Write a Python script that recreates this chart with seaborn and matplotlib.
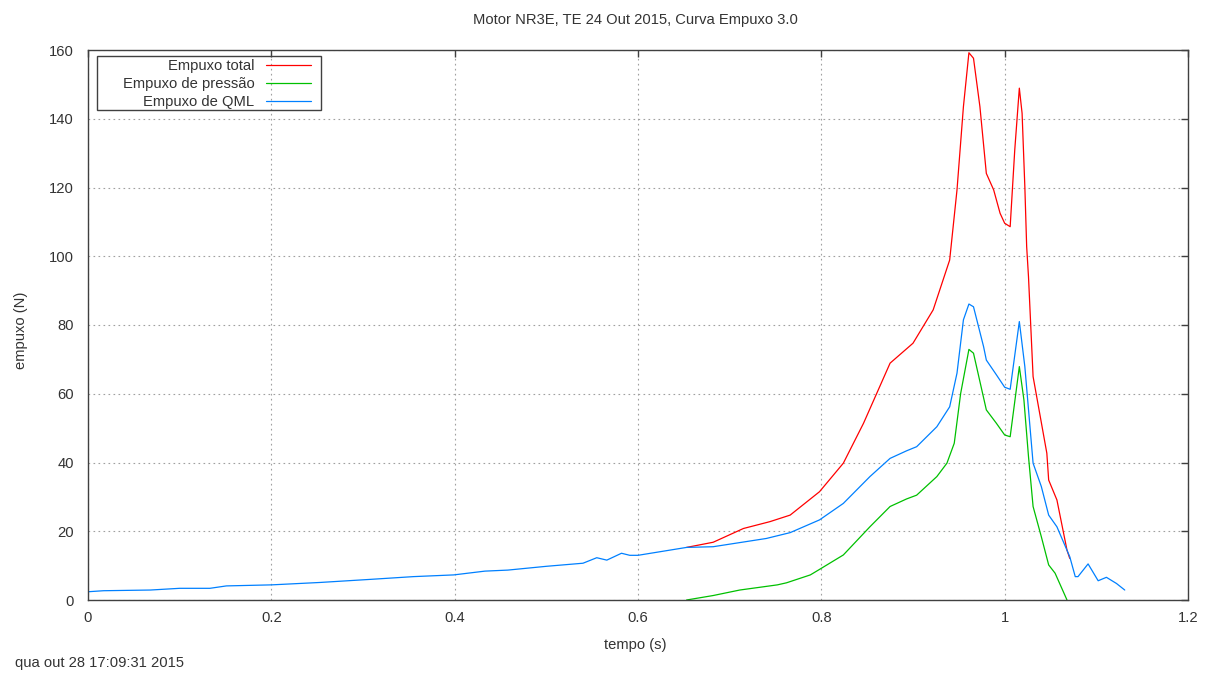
import matplotlib
matplotlib.use("Agg")
import matplotlib.pyplot as plt
import seaborn as sns
import pandas as pd
import numpy as np
from matplotlib.ticker import FuncFormatter, MultipleLocator
from matplotlib.patches import Rectangle

# ---- data ----
t_qml = [0.0, 0.017, 0.068, 0.100, 0.133, 0.151, 0.200, 0.253, 0.308, 0.355, 0.399,
         0.433, 0.458, 0.500, 0.540, 0.555, 0.566, 0.582, 0.591, 0.600, 0.653, 0.682,
         0.740, 0.766, 0.798, 0.824, 0.853, 0.875, 0.893, 0.904, 0.926, 0.940, 0.948,
         0.955, 0.961, 0.966, 0.977, 0.980, 0.991, 1.000, 1.006, 1.016, 1.022, 1.031,
         1.040, 1.048, 1.057, 1.071, 1.077, 1.080, 1.091, 1.102, 1.111, 1.122, 1.131]
y_qml = [2.4, 2.7, 2.9, 3.4, 3.4, 4.1, 4.4, 5.1, 6.0, 6.8, 7.3,
         8.4, 8.7, 9.8, 10.7, 12.3, 11.6, 13.6, 13.0, 13.0, 15.3, 15.5,
         17.9, 19.6, 23.3, 28.1, 35.9, 41.2, 43.4, 44.6, 50.4, 56.2, 66.0,
         81.5, 86.1, 85.3, 73.7, 69.8, 65.5, 61.9, 61.3, 81.0, 67.9, 39.8,
         33.0, 24.7, 21.3, 12.6, 6.8, 6.8, 10.5, 5.6, 6.6, 4.8, 2.9]

t_pres = [0.653, 0.682, 0.711, 0.752, 0.762, 0.788, 0.798, 0.824, 0.853, 0.875, 0.893,
          0.904, 0.926, 0.937, 0.945, 0.952, 0.961, 0.966, 0.980, 0.991, 1.000, 1.006,
          1.016, 1.021, 1.026, 1.031, 1.040, 1.048, 1.055, 1.068]
y_pres = [0.0, 1.3, 2.9, 4.4, 5.0, 7.3, 8.9, 13.1, 21.3, 27.2, 29.4,
          30.5, 35.9, 39.8, 45.6, 60.1, 72.9, 71.8, 55.3, 51.4, 48.0, 47.5,
          67.9, 58.2, 41.7, 27.2, 18.4, 10.2, 7.8, 0.0]

t_total = [0.653, 0.682, 0.715, 0.744, 0.766, 0.798, 0.824, 0.846, 0.875, 0.900, 0.922,
           0.940, 0.948, 0.955, 0.961, 0.966, 0.973, 0.980, 0.988, 0.995, 1.000, 1.006,
           1.011, 1.016, 1.019, 1.022, 1.024, 1.026, 1.031, 1.046, 1.048, 1.057, 1.068, 1.071]
y_total = [15.3, 16.8, 20.8, 22.8, 24.7, 31.5, 39.8, 51.4, 68.9, 74.7, 84.4,
           98.9, 119.3, 143.5, 159.2, 157.6, 143.5, 124.1, 119.3, 112.5, 109.6, 108.6,
           130.9, 148.9, 141.6, 120.3, 102.8, 94.0, 65.0, 42.7, 34.9, 29.1, 14.5, 12.1]

series_names = ["Empuxo total", "Empuxo de pressão", "Empuxo de QML"]
colors = ["#ff0000", "#00c000", "#0080ff"]

df = pd.concat([
    pd.DataFrame({"t": t_total, "y": y_total, "s": series_names[0]}),
    pd.DataFrame({"t": t_pres, "y": y_pres, "s": series_names[1]}),
    pd.DataFrame({"t": t_qml, "y": y_qml, "s": series_names[2]}),
], ignore_index=True)

sns.set_style("white")
plt.rcParams["font.family"] = ["Liberation Sans", "DejaVu Sans"]
FS = 10.6
TXT = "#333333"
plt.rcParams["font.size"] = FS

fig = plt.figure(figsize=(12.11, 6.75), dpi=100)
ax = fig.add_axes([88/1211, 1-600/675, 1100/1211, 550/675])

sns.lineplot(data=df, x="t", y="y", hue="s", hue_order=series_names,
             palette=colors, estimator=None, sort=False, linewidth=0.9, ax=ax)

ax.set_xlim(0, 1.2)
ax.set_ylim(0, 160)
ax.xaxis.set_major_locator(MultipleLocator(0.2))
ax.yaxis.set_major_locator(MultipleLocator(20))
ax.xaxis.set_major_formatter(FuncFormatter(lambda v, p: "%g" % round(v, 2)))
ax.yaxis.set_major_formatter(FuncFormatter(lambda v, p: "%g" % v))
ax.grid(True, linestyle=(0, (1.5, 3)), color="#a0a0a0", linewidth=0.8)
ax.tick_params(direction="in", length=5, width=1, top=True, right=True,
               labelsize=FS, colors="#404040", labelcolor=TXT)
ax.tick_params(axis="y", pad=10)
ax.tick_params(axis="x", pad=8)
for sp in ax.spines.values():
    sp.set_color("#404040")
    sp.set_linewidth(1)

ax.set_xlabel("tempo (s)", fontsize=FS, color=TXT)
ax.set_ylabel("empuxo (N)", fontsize=FS, color=TXT)
ax.xaxis.set_label_coords((635-88)/1100, (600-638)/550)
ax.yaxis.set_label_coords((28-88)/1100, (600-330)/550)

handles, labels = ax.get_legend_handles_labels()
leg = ax.legend(handles, labels, loc="upper right",
                bbox_to_anchor=(312/1211, 1-58/675), bbox_transform=fig.transFigure,
                borderaxespad=0, borderpad=0.05, markerfirst=False, frameon=False,
                fontsize=FS, handlelength=3.06, handletextpad=0.8,
                labelspacing=0.28)
for txt in leg.get_texts():
    txt.set_color(TXT)
fig.patches.append(Rectangle((97/1211, 1-110/675), (321-97)/1211, (110-56)/675,
                             transform=fig.transFigure, fill=False,
                             edgecolor="#404040", linewidth=1, zorder=10))

fig.text(635/1211, 1-20/675, "Motor NR3E, TE 24 Out 2015, Curva Empuxo 3.0",
         ha="center", va="center", fontsize=FS, color=TXT)
fig.text(15/1211, 1-663/675, "qua out 28 17:09:31 2015", ha="left", va="center",
         fontsize=FS, color=TXT)

fig.savefig("out.png", dpi=100)
